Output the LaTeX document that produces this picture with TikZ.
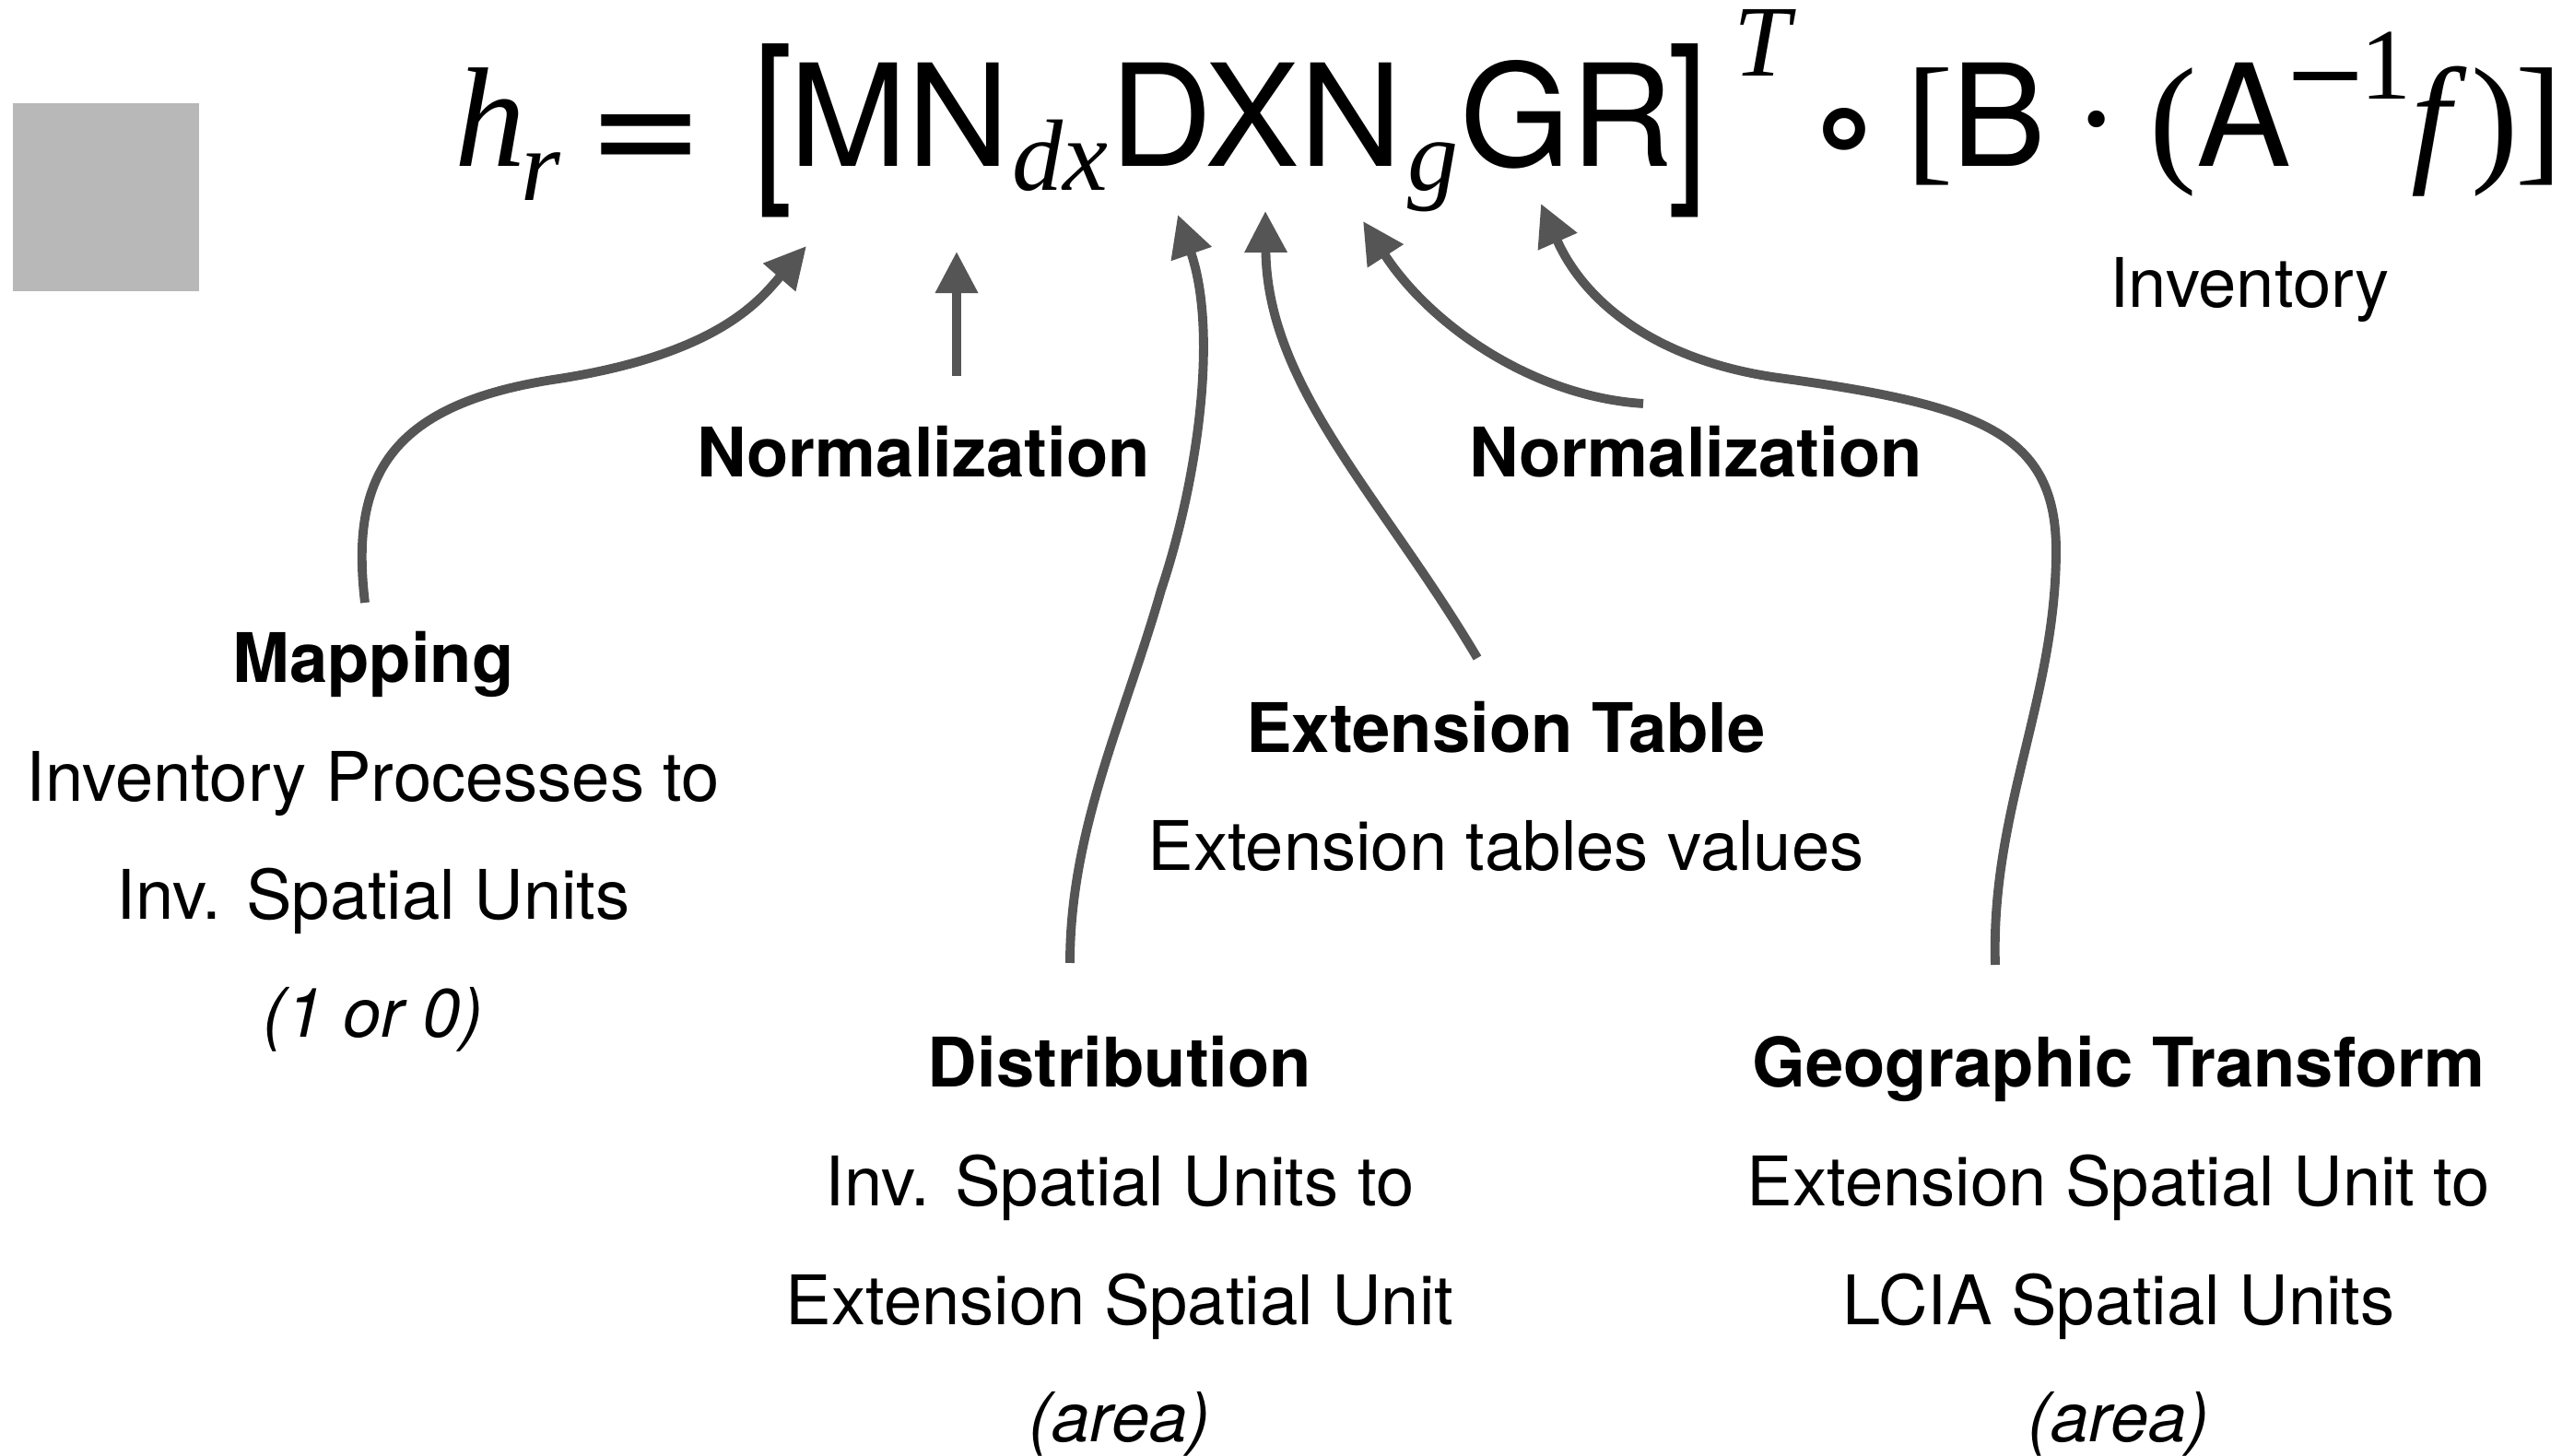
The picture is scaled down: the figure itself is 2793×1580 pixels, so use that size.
\documentclass[tikz,border=0pt]{standalone}
\usepackage{fontspec}
\usepackage{graphicx}
\usepackage{tikz}
\usetikzlibrary{arrows.meta}
\setmainfont{TeX Gyre Heros}
\newfontfamily\timesfont{Liberation Serif}
\newfontfamily\ringfont{DejaVu Sans}
\definecolor{arrowgray}{HTML}{555555}
\definecolor{boxgray}{HTML}{B8B8B8}

\tikzset{
  eq/.style={inner sep=0pt,anchor=base,font=\fontsize{43.8}{50}\selectfont},
  eqrm/.style={eq,font=\fontsize{43.8}{50}\selectfont\timesfont},
  eqit/.style={eq,font=\fontsize{43.8}{50}\selectfont\timesfont\itshape},
  eqsym/.style={eq,font=\fontsize{43.8}{50}\selectfont\ringfont},
  sub/.style={eq,font=\fontsize{31.3}{36}\selectfont\timesfont\itshape},
  suprm/.style={eq,font=\fontsize{31.3}{36}\selectfont\timesfont},
  supsym/.style={eq,font=\fontsize{31.3}{36}\selectfont\ringfont},
  lbl/.style={inner sep=0pt,anchor=base,font=\fontsize{21.1}{25}\selectfont},
  lblit/.style={lbl,font=\fontsize{21.1}{25}\selectfont\itshape},
  ttl/.style={lbl,font=\fontsize{21.1}{25}\selectfont\bfseries},
  link/.style={draw=arrowgray,line width=2.8pt,-{Triangle[length=0.45cm,width=0.44cm]}}
}

\begin{document}
\begin{tikzpicture}[x=0.01cm,y=-0.01cm]
  \useasboundingbox (0,0) rectangle (2793,1580);
  \fill[boxgray] (14,112) rectangle (216,316);

  % the formula
  \node[eqit] (h) at (532,181) {h};
  \node[sub] (r) at (587,218) {r};
  \node[eqsym] (eqsign) at (701,195) {=};
  \node[eq,anchor=center] (lbrack) at (839,141.5) {\scalebox{1}[1.3]{[}};
  \node[eq] (MN) at (976,181) {MN};
  \node[sub] (dx) at (1150,207) {dx};
  \node[eq] (DXN) at (1363,181) {DXN};
  \node[sub] (g) at (1555,207) {g};
  \node[eq] (GR) at (1700,181) {GR};
  \node[eq,anchor=center] (rbrack) at (1832,141.5) {\scalebox{1}[1.3]{]}};
  \node[sub] (T) at (1912,83) {T};
  \node[eq,anchor=center,font=\fontsize{40}{44}\selectfont\ringfont\bfseries] (ring) at (2002,151) {∘};
  \node[eqrm] (lsq) at (2094,181) {[};
  \node[eq] (B) at (2169,181) {B};
  \node[eqrm] (cdot) at (2275,181) {·};
  \node[eqrm] (lpar) at (2358,181) {(};
  \node[eq] (A) at (2435,181) {A};
  \node[supsym] (minus) at (2524,118) {−};
  \node[suprm] (one) at (2589,108) {1};
  \node[eqit] (f) at (2638,181) {f};
  \node[eqrm] (rpar) at (2707,181) {)};
  \node[eqrm] (rsq) at (2755,181) {]};
  \node[lbl] (inv) at (2441,334) {Inventory};

  % labels
  \node[ttl] (mapping) at (405,741) {Mapping};
  \node[lbl] (map1) at (405,870) {Inventory Processes to};
  \node[lbl] (map2) at (405,998) {Inv. Spatial Units};
  \node[lblit] (map3) at (405,1126) {(1 or 0)};
  \node[ttl] (norm1) at (1002,518) {Normalization};
  \node[ttl] (norm2) at (1840,518) {Normalization};
  \node[ttl] (ext) at (1634,817) {Extension Table};
  \node[lbl] (ext1) at (1634,945) {Extension tables values};
  \node[ttl] (distr) at (1215,1180) {Distribution};
  \node[lbl] (distr1) at (1215,1309) {Inv. Spatial Units to};
  \node[lbl] (distr2) at (1215,1438) {Extension Spatial Unit};
  \node[lblit] (distr3) at (1215,1565) {(area)};
  \node[ttl] (geo) at (2299,1180) {Geographic Transform};
  \node[lbl] (geo1) at (2299,1309) {Extension Spatial Unit to};
  \node[lbl] (geo2) at (2299,1438) {LCIA Spatial Units};
  \node[lblit] (geo3) at (2299,1565) {(area)};

  % arrow ends
  \coordinate (mapTail) at (396,654);
  \coordinate (mapTip) at (875,267);
  \coordinate (norm1Tail) at (1038,408);
  \coordinate (norm1Tip) at (1038,273);
  \coordinate (distrTail) at (1161,1045);
  \coordinate (distrTip) at (1278,233);
  \coordinate (extTail) at (1603,714);
  \coordinate (extTip) at (1373,229);
  \coordinate (norm2Tail) at (1783,438);
  \coordinate (norm2Tip) at (1479,240);
  \coordinate (geoTail) at (2165,1047);
  \coordinate (geoTip) at (1672,221);

  % arrows
  \draw[link] (mapTail) .. controls (380,520) and (420,440) .. (600,412)
    .. controls (780,385) and (825,325) .. (mapTip);
  \draw[link] (norm1Tail) -- (norm1Tip);
  \draw[link] (distrTail) .. controls (1161,900) and (1220,780) .. (1260,640)
    .. controls (1300,520) and (1322,360) .. (distrTip);
  \draw[link] (extTail) .. controls (1500,540) and (1375,420) .. (extTip);
  \draw[link] (norm2Tail) .. controls (1660,430) and (1550,350) .. (norm2Tip);
  \draw[link] (geoTail) .. controls (2160,880) and (2230,760) .. (2231,600)
    .. controls (2232,470) and (2150,440) .. (1930,410)
    .. controls (1800,392) and (1720,330) .. (geoTip);
\end{tikzpicture}
\end{document}
